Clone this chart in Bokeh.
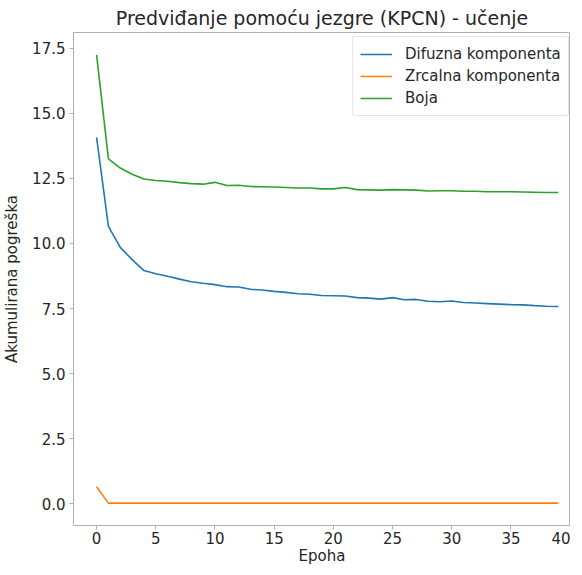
from bokeh.plotting import figure
from bokeh.embed import file_html
from bokeh.resources import INLINE
from bokeh.models import Range1d, FixedTicker, Legend, LegendItem

epochs = list(range(40))
difuzna = [14.08, 10.66, 9.85, 9.38, 8.96, 8.84, 8.74, 8.63, 8.53, 8.47, 8.42, 8.34, 8.33, 8.24, 8.21, 8.16,
           8.12, 8.07, 8.05, 8.0, 7.99, 7.98, 7.92, 7.9, 7.86, 7.92, 7.84, 7.85, 7.78, 7.76, 7.79, 7.73,
           7.71, 7.69, 7.67, 7.65, 7.64, 7.61, 7.59, 7.58]
zrcalna = [0.65] + [0.02] * 39
boja = [17.25, 13.25, 12.9, 12.66, 12.48, 12.42, 12.39, 12.34, 12.3, 12.28, 12.35, 12.23, 12.24, 12.19, 12.18, 12.17,
        12.15, 12.13, 12.13, 12.1, 12.1, 12.15, 12.07, 12.06, 12.05, 12.07, 12.06, 12.05, 12.02, 12.03, 12.03, 12.01,
        12.01, 11.99, 11.99, 11.99, 11.98, 11.97, 11.96, 11.96]
series_names = ["Difuzna komponenta", "Zrcalna komponenta", "Boja"]
x_ticks = [0, 5, 10, 15, 20, 25, 30, 35, 40]
y_ticks = [0.0, 2.5, 5.0, 7.5, 10.0, 12.5, 15.0, 17.5]

FONT = "DejaVu Sans"
TXT = "#262626"
SPINE = "#b0b0b0"

p = figure(frame_width=497, frame_height=493, output_backend="svg", toolbar_location=None,
           x_range=Range1d(-1.95, 40.03), y_range=Range1d(-0.84, 18.11),
           min_border_left=69, min_border_right=0, min_border_top=0, min_border_bottom=0,
           title="Predviđanje pomoću jezgre (KPCN) - učenje")
p.title.text_font = FONT
p.title.text_font_size = "19px"
p.title.text_font_style = "normal"
p.title.text_color = TXT
p.title.align = "center"
p.title.offset = 0
p.title.standoff = 2
p.title.padding = 3
p.grid.visible = False
p.outline_line_color = SPINE
p.outline_line_width = 1

for ax in (p.xaxis[0], p.yaxis[0]):
    ax.axis_line_color = SPINE
    ax.major_tick_line_color = SPINE
    ax.major_tick_out = 4
    ax.major_tick_in = 0
    ax.minor_tick_line_color = None
    ax.major_label_text_font = FONT
    ax.major_label_text_font_size = "15px"
    ax.major_label_text_color = TXT
    ax.axis_label_text_font = FONT
    ax.axis_label_text_font_size = "15px"
    ax.axis_label_text_color = TXT
    ax.axis_label_text_font_style = "normal"

p.xaxis.ticker = FixedTicker(ticks=x_ticks)
p.yaxis.ticker = FixedTicker(ticks=y_ticks)
p.xaxis.major_label_overrides = {t: str(t) for t in x_ticks}
p.yaxis.major_label_overrides = {t: f"{t:.1f}" for t in y_ticks}
p.xaxis.axis_label = "Epoha"
p.yaxis.axis_label = "Akumulirana pogreška"
p.xaxis.axis_label_standoff = 0
p.yaxis.axis_label_standoff = 8
p.xaxis.major_label_standoff = 2
p.yaxis.major_label_standoff = 4

colors = ["#1f77b4", "#ff7f0e", "#2ca02c"]
renderers = []
for data, c in zip([difuzna, zrcalna, boja], colors):
    r = p.line(epochs, data, line_color=c, line_width=1.6)
    renderers.append(r)

legend = Legend(items=[LegendItem(label=n, renderers=[r]) for n, r in zip(series_names, renderers)],
                location=(279, 409))
legend.label_text_font = FONT
legend.label_text_font_size = "15px"
legend.label_text_color = TXT
legend.glyph_width = 32
legend.label_standoff = 13
legend.padding = 7
legend.spacing = 2
legend.margin = 0
legend.border_line_color = "#cccccc"
legend.border_radius = 3
legend.background_fill_alpha = 0.8
p.add_layout(legend)

open("out.html", "w").write(file_html(p, INLINE))
